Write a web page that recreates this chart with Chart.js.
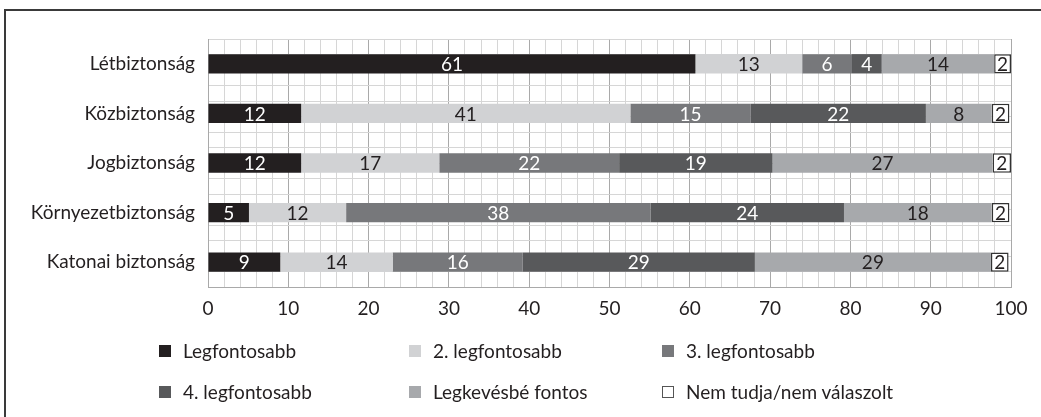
<!DOCTYPE html>
<html>
<head>
<meta charset="utf-8">
<script src="https://cdn.jsdelivr.net/npm/chart.js@4/dist/chart.umd.min.js"></script>
<style>
    html, body { margin: 0; padding: 0; background: #fff; overflow: hidden; }
    #wrap { position: relative; width: 1041px; height: 417px; }
    #frame { position: absolute; left: 4px; top: 9px; width: 2000px; height: 2000px; border: 2px solid #3a3a3a; }
    #chart { position: absolute; left: 0; top: 0; }
    .leg { position: absolute; font-family: Lato, "Open Sans", sans-serif; font-size: 19px; color: #231f20; white-space: nowrap; line-height: 22px; }
    .leg i { position: absolute; left: 0; top: 5px; width: 12px; height: 12px; box-sizing: border-box; }
    .leg span { position: absolute; left: 24px; top: 0; }
</style>
</head>
<body>
<div id="wrap">
    <div id="frame"></div>
    <canvas id="chart" width="1041" height="417"></canvas>
    <div id="legend"></div>
</div>
<script>
"use strict";

var categories   = ["Létbiztonság", "Közbiztonság", "Jogbiztonság", "Környezetbiztonság", "Katonai biztonság"];
var seriesNames  = ["Legfontosabb", "2. legfontosabb", "3. legfontosabb", "4. legfontosabb", "Legkevésbé fontos", "Nem tudja/nem válaszolt"];
var legfontosabb = [60.7, 11.6, 11.6, 5.1, 9.0];
var masodik      = [13.3, 41.0, 17.2, 12.1, 14.0];
var harmadik     = [6.2, 15.0, 22.4, 37.9, 16.2];
var negyedik     = [3.7, 21.8, 19.1, 24.1, 28.9];
var legkevesbe   = [14.0, 8.2, 27.4, 18.4, 29.4];
var nemTudja     = [2.1, 2.2, 2.3, 2.2, 2.2];
var xTicks       = [0, 10, 20, 30, 40, 50, 60, 70, 80, 90, 100];

var colors     = ["#231f20", "#d1d2d4", "#77787b", "#58595b", "#a7a9ac", "#ffffff"];
var textColors = ["#ffffff", "#231f20", "#ffffff", "#ffffff", "#231f20", "#231f20"];
var fontFamily = "Lato, 'Open Sans', sans-serif";

var valueLabels = {
    id: "valueLabels",
    afterDatasetsDraw: function (chart)
    {
        var ctx = chart.ctx;
        ctx.save();
        ctx.font         = "19px " + fontFamily;
        ctx.textAlign    = "center";
        ctx.textBaseline = "middle";
        chart.data.datasets.forEach(function (ds, di)
        {
            var meta = chart.getDatasetMeta(di);
            meta.data.forEach(function (bar, i)
            {
                ctx.fillStyle = textColors[di];
                ctx.fillText(String(Math.round(ds.data[i])), (bar.x + bar.base) / 2, bar.y + 1);
            });
        });
        ctx.restore();
    }
};

var allSeries = [legfontosabb, masodik, harmadik, negyedik, legkevesbe, nemTudja];
var datasets  = [];

for (var i = 0; i < allSeries.length; i++)
{
    datasets.push({
        label:           seriesNames[i],
        data:            allSeries[i],
        backgroundColor: colors[i],
        borderColor:     i === 5 ? "#333333" : colors[i],
        borderWidth:     i === 5 ? 1.5 : 0,
        borderSkipped:   false,
        barPercentage:   0.39,
        categoryPercentage: 1
    });
}

Chart.defaults.font.family = fontFamily;
Chart.defaults.color       = "#231f20";

new Chart(document.getElementById("chart"), {
    type:    "bar",
    data:    {
        labels:   categories,
        datasets: datasets
    },
    options: {
        indexAxis:           "y",
        responsive:          false,
        animation:           false,
        layout:              {
            padding: {left: 0, right: 30, top: 39, bottom: 98}
        },
        plugins:             {
            legend:  {display: false},
            tooltip: {enabled: false}
        },
        scales:              {
            x:  {
                stacked: true,
                min:     0,
                max:     100,
                ticks:   {
                    stepSize: 2,
                    autoSkip: false,
                    maxRotation: 0,
                    padding:  10,
                    font:     {size: 19},
                    callback: function (v)
                    {
                        return xTicks.indexOf(v) >= 0 ? String(v) : "";
                    }
                },
                grid:    {
                    drawTicks: false,
                    color:     function (c)
                    {
                        return c.tick && xTicks.indexOf(c.tick.value) >= 0 ? "#a9a9a9" : "#d6d6d6";
                    }
                },
                border:  {color: "#a9a9a9"},
                afterFit: function (s) { s.height = 32; }
            },
            y:  {
                stacked: true,
                ticks:   {
                    padding: 13,
                    font:    {size: 19}
                },
                grid:    {display: false, drawTicks: false},
                border:  {color: "#a9a9a9"},
                afterFit: function (s) { s.width = 208; }
            },
            y2: {
                type:     "linear",
                position: "right",
                min:      0,
                max:      15,
                ticks:    {display: false, stepSize: 1},
                grid:     {drawTicks: false, color: "#d6d6d6"},
                border:   {display: false}
            }
        }
    },
    plugins: [valueLabels]
});

// legend laid out in a 3 x 2 grid like the original
var legendBox = document.getElementById("legend");
var colX      = [159, 409, 662];
var rowY      = [340, 381];

seriesNames.forEach(function (name, i)
{
    var item = document.createElement("div");
    item.className  = "leg";
    item.style.left = colX[i % 3] + "px";
    item.style.top  = rowY[Math.floor(i / 3)] + "px";

    var box = document.createElement("i");
    box.style.background = colors[i];
    if (i === 5)
    {
        box.style.border = "1px solid #555";
    }
    var txt = document.createElement("span");
    txt.textContent = name;

    item.appendChild(box);
    item.appendChild(txt);
    legendBox.appendChild(item);
});
</script>
</body>
</html>
